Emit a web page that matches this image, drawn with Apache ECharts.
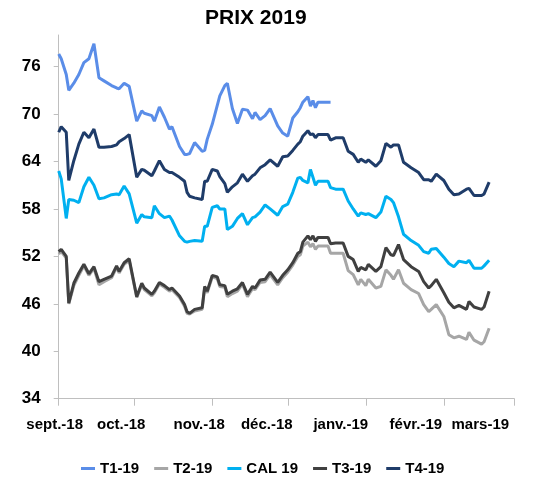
<!DOCTYPE html>
<html>
<head>
<meta charset="utf-8">
<script src="https://cdn.jsdelivr.net/npm/echarts@6/dist/echarts.min.js"></script>
<style>
  html, body { margin: 0; padding: 0; background: #fff; }
  #chart { width: 560px; height: 479px; }
</style>
</head>
<body>
<div id="chart"></div>
<script>
// dates
var dates = [
  '2018-09-01','2018-09-02','2018-09-04','2018-09-05','2018-09-07','2018-09-09','2018-09-11','2018-09-13','2018-09-15','2018-09-17',
  '2018-09-19','2018-09-22','2018-09-24','2018-09-25','2018-09-27','2018-09-29','2018-10-02','2018-10-04','2018-10-05','2018-10-08',
  '2018-10-09','2018-10-11','2018-10-13','2018-10-15','2018-10-16','2018-10-19','2018-10-21','2018-10-22','2018-10-23','2018-10-25',
  '2018-10-28','2018-10-29','2018-10-30','2018-11-01','2018-11-03','2018-11-04','2018-11-06','2018-11-07','2018-11-09','2018-11-11',
  '2018-11-13','2018-11-15','2018-11-17','2018-11-18','2018-11-20','2018-11-22','2018-11-24','2018-11-27','2018-11-29','2018-12-01',
  '2018-12-03','2018-12-05','2018-12-06','2018-12-07','2018-12-09','2018-12-10','2018-12-11','2018-12-12','2018-12-13','2018-12-17',
  '2018-12-18','2018-12-20','2018-12-23','2018-12-25','2018-12-27','2018-12-29','2018-12-30','2019-01-01','2019-01-02','2019-01-05',
  '2019-01-07','2019-01-09','2019-01-11','2019-01-12','2019-01-14','2019-01-16','2019-01-19','2019-01-22','2019-01-24','2019-01-26',
  '2019-01-27','2019-01-29','2019-02-01','2019-02-03','2019-02-05','2019-02-07','2019-02-10','2019-02-11','2019-02-13','2019-02-16',
  '2019-02-17','2019-02-19'
];

// T1-19 s'arrête mi-décembre
var t1 = [
  77.6,77.0,75.0,73.0,73.9,75.0,76.5,77.0,78.9,74.6,
  74.2,73.6,73.3,73.2,73.9,73.5,69.1,70.4,70.1,69.8,
  69.1,70.9,69.6,68.1,68.4,65.9,64.9,64.9,65.0,66.4,
  65.3,65.4,66.8,68.7,71.1,72.3,73.6,73.9,70.7,68.8,
  70.6,70.5,69.4,70.2,69.3,69.8,70.7,68.5,67.6,67.2,
  69.5,70.3,70.8,71.5,72.2,71.0,71.7,70.8,71.5,71.5,
  71.5
];

var t2 = [
  52.3,52.6,51.8,46.0,48.3,49.6,50.8,49.6,50.5,48.4,
  48.8,49.3,50.6,49.9,51.0,51.5,46.8,48.4,47.8,47.0,
  47.4,48.5,48.1,47.6,47.8,46.8,45.7,44.8,44.7,45.1,
  45.3,48.0,47.4,49.4,49.2,48.2,48.1,46.9,47.3,47.6,
  48.5,46.9,47.9,47.8,48.7,48.8,49.7,48.4,49.3,50.0,
  50.9,52.0,52.2,53.3,53.8,53.2,53.6,52.9,53.3,53.3,
  52.4,52.4,52.4,50.2,49.7,48.4,49.1,48.3,49.1,48.0,
  48.2,50.3,49.6,49.1,50.3,48.6,47.8,47.3,45.9,45.0,
  45.3,45.9,44.4,42.1,41.7,41.9,41.5,42.4,41.4,40.9,
  41.2,42.9
];

var cal = [
  62.8,61.8,56.8,59.2,59.1,58.8,60.8,62.0,61.0,59.3,
  59.4,59.8,59.9,59.8,60.9,59.9,56.2,57.3,57.0,56.9,
  58.4,57.4,56.9,57.1,56.6,54.6,53.9,53.8,53.9,54.0,
  53.9,55.8,55.8,58.2,58.4,58.0,58.0,55.4,55.8,56.8,
  57.4,56.0,56.9,57.0,57.6,58.5,58.0,57.2,58.3,58.6,
  60.1,61.9,62.0,61.6,61.3,63.0,62.0,61.0,61.5,61.5,
  60.7,60.5,60.5,59.0,58.0,57.1,57.5,57.3,57.4,56.9,
  57.6,59.6,59.2,58.8,57.0,54.8,54.0,53.4,52.6,52.4,
  52.9,53.0,51.9,51.1,50.7,51.4,51.2,51.5,50.5,50.5,
  50.8,51.5
];

var t3 = [
  52.6,52.9,52.0,46.1,48.6,49.9,51.0,49.8,50.7,48.8,
  49.1,49.5,50.8,50.1,51.2,51.7,46.9,48.6,48.0,47.2,
  47.6,48.7,48.3,47.8,48.0,47.0,45.9,45.0,44.8,45.3,
  45.5,48.2,47.6,49.6,49.4,48.4,48.3,47.2,47.6,47.9,
  48.7,47.2,48.2,48.0,49.0,49.1,50.0,48.7,49.6,50.3,
  51.2,52.4,52.6,53.8,54.6,54.1,54.6,53.9,54.4,54.4,
  53.6,53.7,53.7,52.0,51.6,50.1,50.6,50.3,51.0,50.1,
  50.7,53.1,52.2,52.1,53.5,51.6,50.7,50.1,48.8,48.0,
  48.3,49.1,47.4,46.2,45.5,45.8,45.3,46.3,45.6,45.3,
  45.6,47.6
];

var t4 = [
  67.7,68.4,67.7,61.6,64.1,66.2,67.7,67.0,68.1,65.8,
  65.8,65.9,66.1,66.5,66.9,67.4,62.0,63.0,62.9,62.2,
  62.8,64.1,63.0,62.6,62.6,62.0,61.5,60.1,59.6,59.4,
  59.2,61.5,61.5,63.0,62.8,62.1,61.2,60.1,60.8,61.3,
  62.4,61.5,62.2,62.4,63.2,63.6,64.2,63.4,64.6,64.7,
  65.4,66.2,66.5,67.2,67.9,67.4,67.5,67.0,67.4,67.4,
  66.7,67.0,67.0,65.3,64.9,63.9,64.3,63.9,64.2,63.4,
  64.1,66.3,65.8,66.1,66.1,63.9,63.2,62.6,61.7,61.7,
  61.5,62.4,61.6,60.5,59.8,59.9,60.5,60.6,59.7,59.7,
  59.9,61.4
];

var seriesNames = ['T1-19', 'T2-19', 'CAL 19', 'T3-19', 'T4-19'];
var monthLabels = ['sept.-18', 'oct.-18', 'nov.-18', 'déc.-18', 'janv.-19', 'févr.-19', 'mars-19'];
var monthStarts = ['2018-09-01', '2018-10-01', '2018-11-01', '2018-12-01', '2019-01-01', '2019-02-01', '2019-03-01'];

(function () {
    var myChart = echarts.init(document.getElementById('chart'));

    function toTime(s) {
        var p = s.split('-');
        return new Date(+p[0], +p[1] - 1, +p[2]).getTime();
    }
    function pairs(arr) {
        var out = [];
        for (var i = 0; i < dates.length; i++) {
            out.push([toTime(dates[i]), i < arr.length ? arr[i] : null]);
        }
        return out;
    }
    var tickTimes = monthStarts.map(toTime);

    // les libellés Excel sont décalés vers la gauche
    var shift = [4, 13, 13, 21, 25, 28, 34];
    var rich = {};
    shift.forEach(function (s, i) {
        rich['m' + i] = {
            fontSize: 15, fontWeight: 'bold', color: '#000',
            fontFamily: 'Liberation Sans',
            padding: [0, s * 2, 0, 0]
        };
    });

    var colors = ['#5a8de8', '#a6a6a6', '#00b0f0', '#404040', '#1f3c69'];
    var values = [t1, t2, cal, t3, t4];

    var option = {
        animation: false,
        title: {
            text: 'PRIX 2019',
            left: 205,
            top: 8,
            padding: 0,
            textStyle: { fontSize: 21, fontWeight: 'bold', color: '#000', fontFamily: 'Liberation Sans' }
        },
        legend: {
            data: seriesNames,
            left: 81,
            top: 461,
            padding: 0,
            itemGap: 15,
            itemWidth: 14,
            itemHeight: 3,
            icon: 'rect',
            textStyle: { fontSize: 15, fontWeight: 'bold', color: '#000', fontFamily: 'Liberation Sans' }
        },
        grid: { left: 58.7, right: 45.7, top: 35, bottom: 80.3 },
        xAxis: {
            type: 'value',
            min: tickTimes[0],
            max: tickTimes[tickTimes.length - 1],
            scale: true,
            axisLine: { lineStyle: { color: '#bfbfbf', width: 1 } },
            axisTick: { show: true, length: 7, customValues: tickTimes, lineStyle: { color: '#bfbfbf' } },
            splitLine: { show: false },
            axisLabel: {
                customValues: tickTimes,
                margin: 19,
                formatter: function (val) {
                    var i = tickTimes.indexOf(val);
                    if (i < 0) {
                        var d = new Date(val);
                        i = (d.getFullYear() - 2018) * 12 + d.getMonth() - 8;
                    }
                    return '{m' + i + '|' + monthLabels[i] + '}';
                },
                rich: rich
            }
        },
        yAxis: {
            type: 'value',
            min: 34,
            max: 80,
            interval: 6,
            axisLine: { show: true, lineStyle: { color: '#bfbfbf', width: 1 } },
            axisTick: { show: true, length: 5, lineStyle: { color: '#bfbfbf' } },
            splitLine: { show: false },
            axisLabel: {
                showMaxLabel: false,
                margin: 18,
                fontSize: 17,
                fontWeight: 'bold',
                color: '#000',
                fontFamily: 'Liberation Sans'
            }
        },
        series: seriesNames.map(function (name, i) {
            return {
                name: name,
                type: 'line',
                data: pairs(values[i]),
                showSymbol: false,
                symbol: 'none',
                color: colors[i],
                lineStyle: { width: 3, color: colors[i] },
                connectNulls: false
            };
        })
    };

    myChart.setOption(option);
    window.addEventListener('resize', function () {
        myChart.resize();
    });
})();
</script>
</body>
</html>
